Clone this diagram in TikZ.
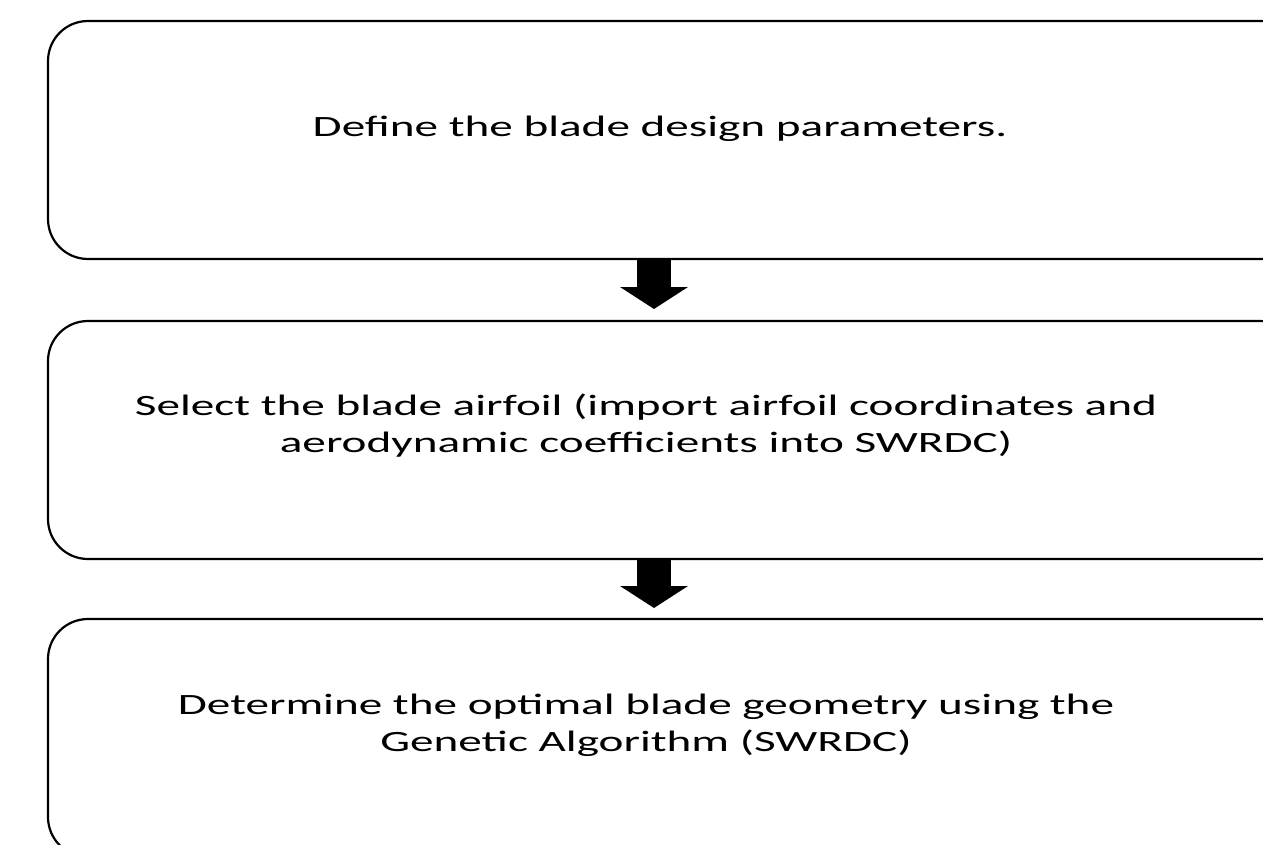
\documentclass[tikz,border=0pt]{standalone}
\usepackage{fontspec}
\setmainfont{Carlito}[FakeStretch=1.6]
\usetikzlibrary{arrows.meta}
\begin{document}
\begin{tikzpicture}[x=1pt,y=-1pt,
  stepbox/.style={draw=black,line width=2.2pt,rounded corners=40pt,minimum width=1252pt,minimum height=238pt,inner sep=0pt},
  txt/.style={align=center,inner sep=0pt,font=\fontsize{29.5}{37}\selectfont},
  bigarrow/.style={line width=34pt,-{Triangle[width=67pt,length=22pt]}}]
\useasboundingbox (0,0) rectangle (1263,845);
\fill[white] (0,0) rectangle (1263,845);
\node[stepbox] (b1) at (674,140) {};
\node[stepbox] (b2) at (674,440) {};
\node[stepbox] (b3) at (674,738) {};
\node[txt] (t1) at (660,129) {Define the blade design parameters.};
\node[txt] (t2) at (646,426) {Select the blade airfoil (import airfoil coordinates and\\aerodynamic coefficients into SWRDC)};
\node[txt] (t3) at (646,725) {Determine the optimal blade geometry using the\\Genetic Algorithm (SWRDC)};
\coordinate (a1s) at (654,259);
\coordinate (a1e) at (654,309);
\coordinate (a2s) at (654,559);
\coordinate (a2e) at (654,608);
\draw[bigarrow] (a1s) -- (a1e);
\draw[bigarrow] (a2s) -- (a2e);
\end{tikzpicture}
\end{document}
